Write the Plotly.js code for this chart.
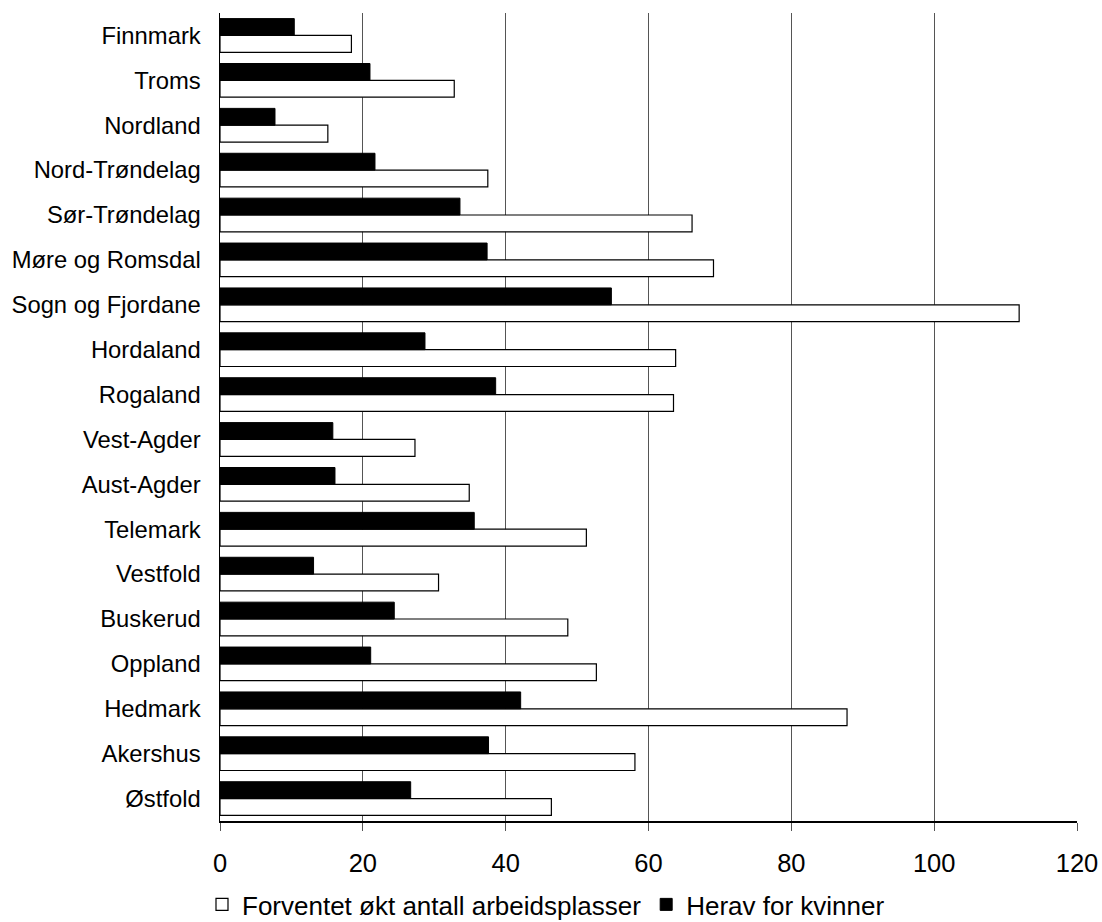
<!DOCTYPE html>
<html>
<head>
<meta charset="utf-8">
<script src="https://cdn.plot.ly/plotly-3.0.1.min.js"></script>
<style>html,body{margin:0;padding:0;background:#fff;}#chart{width:1102px;height:922px;}</style>
</head>
<body>
<div id="chart"></div>
<script>
// Categories listed bottom to top
const counties = ["Østfold","Akershus","Hedmark","Oppland","Buskerud","Vestfold","Telemark","Aust-Agder","Vest-Agder","Rogaland","Hordaland","Sogn og Fjordane","Møre og Romsdal","Sør-Trøndelag","Nord-Trøndelag","Nordland","Troms","Finnmark"];
const expectedJobs = [46.4, 58.1, 87.8, 52.7, 48.7, 30.6, 51.3, 34.9, 27.3, 63.5, 63.8, 111.9, 69.1, 66.1, 37.5, 15.1, 32.8, 18.4];
const womenJobs = [26.7, 37.6, 42.1, 21.1, 24.4, 13.1, 35.6, 16.1, 15.8, 38.6, 28.7, 54.8, 37.4, 33.6, 21.7, 7.7, 21.0, 10.4];
const xTicks = [0, 20, 40, 60, 80, 100, 120];
const seriesNames = ["Forventet økt antall arbeidsplasser", "Herav for kvinner"];

const fam = "Liberation Sans, Arial, sans-serif";
const yFont = {family: fam, size: 23.8, color: "#000"};
const xFont = {family: fam, size: 25.5, color: "#000"};
const legFont = {family: fam, size: 26, color: "#000"};

const data = [
  {type: "bar", orientation: "h", name: seriesNames[0], y: counties, x: expectedJobs,
   marker: {color: "#fff", line: {color: "#000", width: 1.2}}},
  {type: "bar", orientation: "h", name: seriesNames[1], y: counties, x: womenJobs,
   marker: {color: "#000", line: {color: "#000", width: 1}}}
];

const layout = {
  width: 1102, height: 922,
  margin: {l: 220, r: 25, t: 13, b: 101},
  paper_bgcolor: "#fff", plot_bgcolor: "#fff",
  font: yFont,
  barmode: "group",
  bargap: 0.25,
  bargroupgap: 0,
  showlegend: true,
  legend: {orientation: "h", xref: "container", yref: "container", x: 0.1833, xanchor: "left", y: 0.019, yanchor: "middle",
           font: legFont, itemwidth: 30, traceorder: "normal", tracegroupgap: 0},
  xaxis: {range: [0, 120], tickvals: xTicks, ticktext: xTicks.map(String),
          showgrid: true, gridcolor: "#555", gridwidth: 1,
          showline: true, linecolor: "#000", linewidth: 1.5,
          ticks: "outside", ticklen: 8, tickcolor: "#555", ticklabelstandoff: 11,
          zeroline: false, tickfont: xFont, fixedrange: true},
  yaxis: {type: "category", categoryorder: "array", categoryarray: counties,
          showgrid: false, showline: true, linecolor: "#000", linewidth: 1.5,
          ticks: "", ticklabelstandoff: 13, tickfont: yFont, zeroline: false, fixedrange: true}
};

Plotly.newPlot("chart", data, layout, {displayModeBar: false, staticPlot: true});
</script>
</body>
</html>
